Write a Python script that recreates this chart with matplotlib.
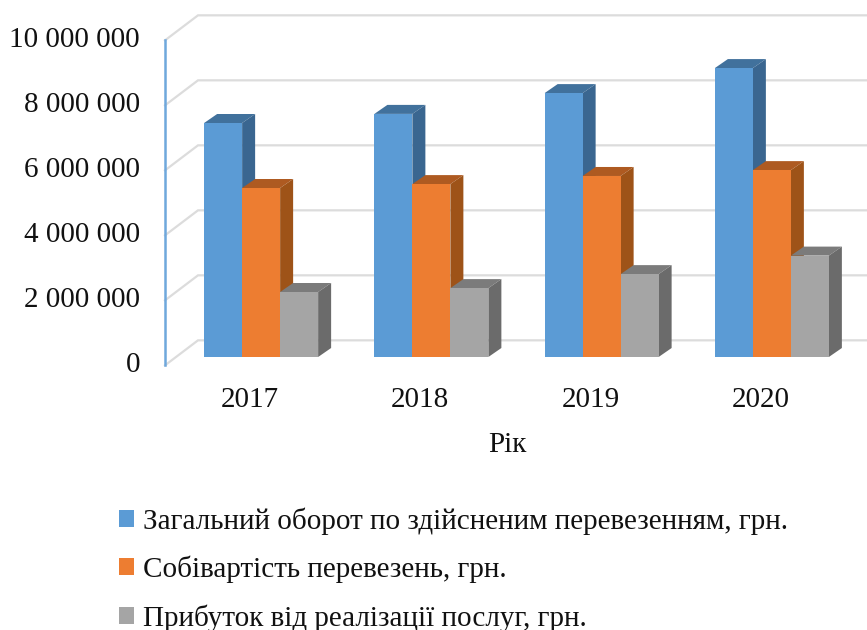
import numpy as np
import matplotlib
matplotlib.use('Agg')
import matplotlib.pyplot as plt
from matplotlib.patches import Patch
from matplotlib.transforms import ScaledTranslation

years = ['2017', '2018', '2019', '2020']
turnover = [7200000, 7480000, 8120000, 8890000]
cost = [5200000, 5320000, 5570000, 5750000]
profit = [2000000, 2120000, 2550000, 3120000]
names = ['Загальний оборот по здійсненим перевезенням, грн.',
         'Собівартість перевезень, грн.',
         'Прибуток від реалізації послуг, грн.']
y_ticks = [0, 2000000, 4000000, 6000000, 8000000, 10000000]
y_labels = ['0', '2 000 000', '4 000 000', '6 000 000', '8 000 000', '10 000 000']

plt.rcParams['font.family'] = ['Liberation Serif', 'DejaVu Serif']

W, H = 867, 630
fig = plt.figure(figsize=(W / 100, H / 100), dpi=100)
ax = fig.add_axes([176 / W, 1 - 357 / H, 681 / W, 325 / H])
ax.set_xlim(0, 4)
ax.set_ylim(0, 10000000)
for s in ax.spines.values():
    s.set_visible(False)

# size of the fake 3d depth in data units
px_x = 4 / 681
px_y = 10000000 / 325
wall_dx, wall_dy = 33 * px_x, 25 * px_y
bar_dx, bar_dy = 13 * px_x, 9 * px_y
front = -1 / 3  # the bars stand a third of the way into the floor


def shift(x, y, d):
    return x + d * wall_dx, y + d * wall_dy


# back wall and side wall grid
for v in y_ticks:
    x0, y0 = shift(0, v, front)
    x1, y1 = shift(0, v, front + 1)
    x2, y2 = shift(4, v, front + 1)
    ax.plot([x0, x1, x2], [y0, y1, y2], color='#DCDCDC', lw=1.6, clip_on=False,
            zorder=1, solid_joinstyle='miter')

# left axis line
xa, ya0 = shift(0, 0, front)
xa, ya1 = shift(0, 10000000, front)
ax.plot([xa, xa], [ya0, ya1], color='#6FA8DC', lw=1.8, clip_on=False, zorder=2)

series = [turnover, cost, profit]
faces = ['#5B9BD5', '#ED7D31', '#A5A5A5']
tops = ['#41719C', '#AE5A21', '#7B7B7B']
sides = ['#3A6690', '#9E5318', '#6B6B6B']
bar_w = 38 * px_x
group_x = np.arange(len(years)) + 0.5

z = 3
for g, gx in enumerate(group_x):
    for i, vals in enumerate(series):
        left = gx + (i - 1.5) * bar_w
        right = left + bar_w
        v = vals[g]
        ax.bar(left, v, bar_w, align='edge', color=faces[i], zorder=z + 0.2, clip_on=False)
        ax.fill([left, right, right + bar_dx, left + bar_dx],
                [v, v, v + bar_dy, v + bar_dy], color=tops[i], lw=0, zorder=z, clip_on=False)
        ax.fill([right, right + bar_dx, right + bar_dx, right],
                [0, bar_dy, v + bar_dy, v], color=sides[i], lw=0, zorder=z + 0.1, clip_on=False)
        z += 1

ax.set_xticks(group_x)
ax.set_xticklabels(years, fontsize=21, color='#111111')
ax.set_yticks(y_ticks)
ax.set_yticklabels(y_labels, fontsize=21, color='#111111')
ax.tick_params(axis='x', length=0, pad=21.7)
ax.tick_params(axis='y', length=0, pad=26)
for lab in ax.get_xticklabels():
    lab.set_transform(lab.get_transform() + ScaledTranslation(-11 / 100, 0, fig.dpi_scale_trans))
for lab in ax.get_yticklabels():
    lab.set_transform(lab.get_transform() + ScaledTranslation(0, -5 / 100, fig.dpi_scale_trans))

fig.text(507 / W, 1 - 445 / H, 'Рік', fontsize=21, color='#111111', ha='center', va='center')

handles = [Patch(facecolor=c, edgecolor='none') for c in faces]
fig.legend(handles, names, loc='upper left', bbox_to_anchor=(93 / W, 1 - 481 / H),
           frameon=False, fontsize=21, handlelength=0.52, handleheight=0.52,
           handletextpad=0.28, labelspacing=0.72, labelcolor='#111111')

fig.savefig('out.png', dpi=100)
